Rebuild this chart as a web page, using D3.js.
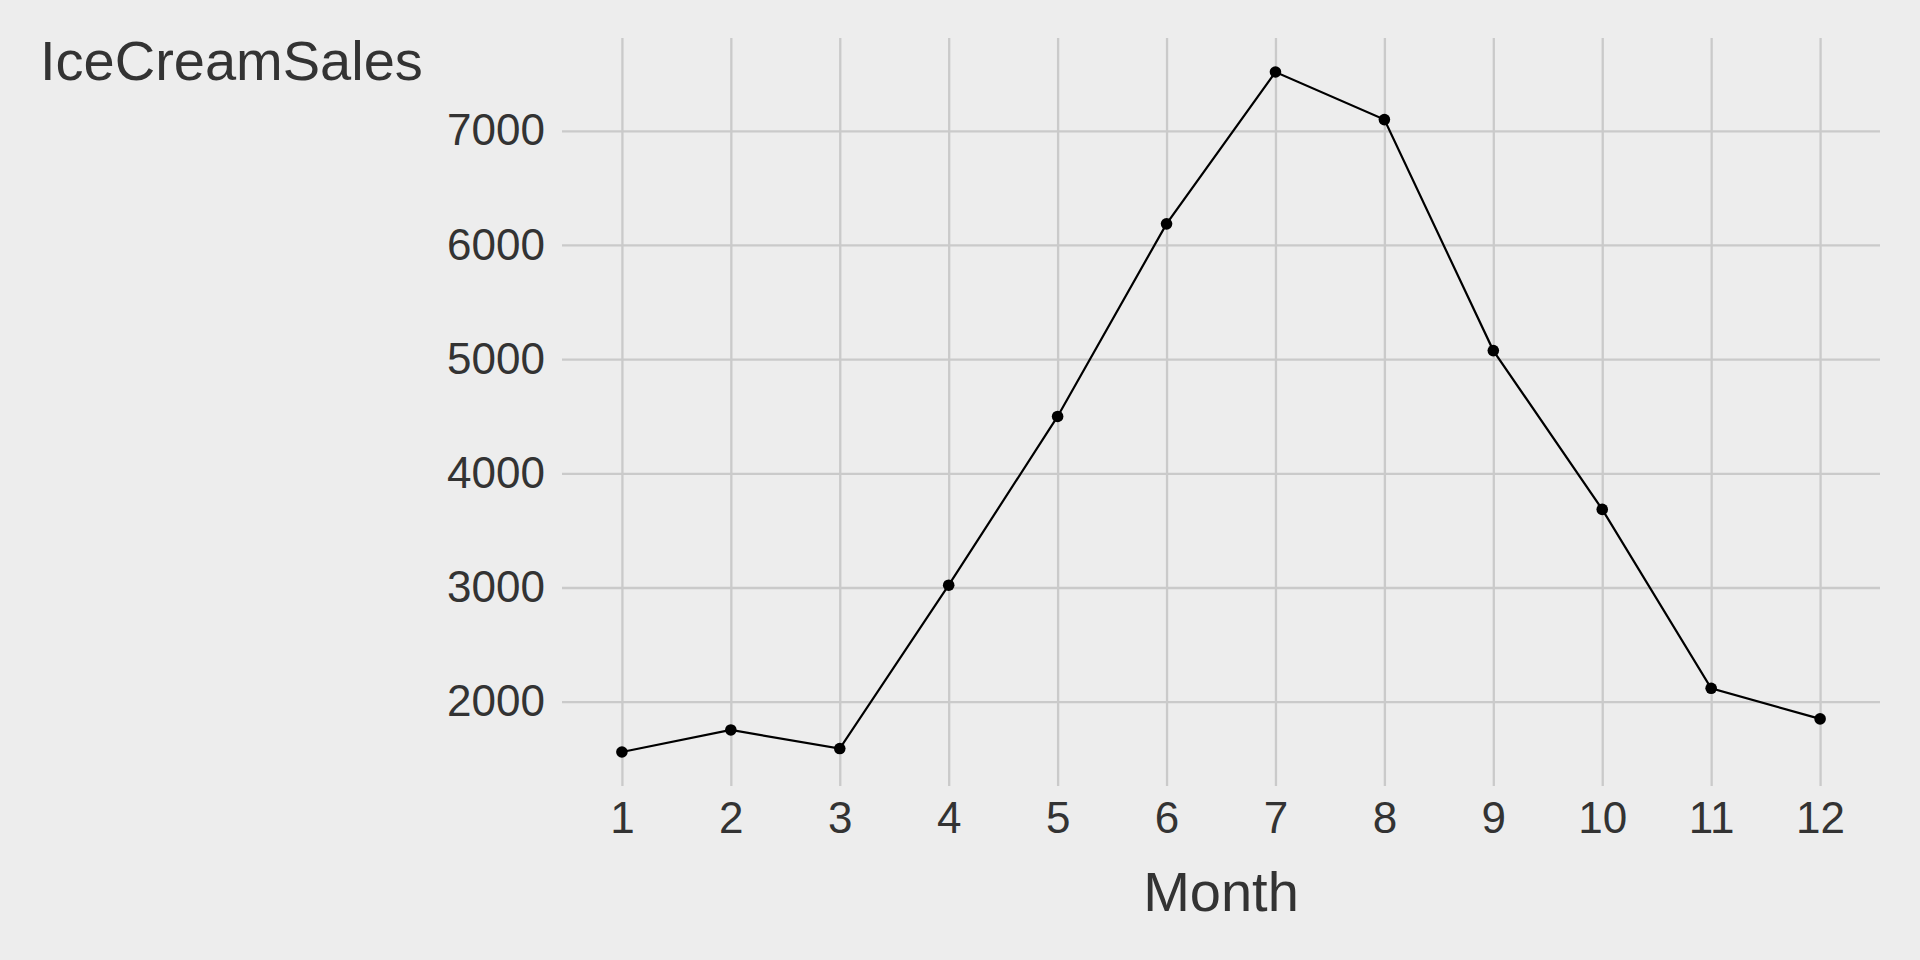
<!DOCTYPE html>
<html>
<head>
<meta charset="utf-8">
<script src="https://cdn.jsdelivr.net/npm/d3@7"></script>
<style>
  html, body { margin: 0; padding: 0; background: #EDEDED; }
  svg { display: block; }
  text { font-family: "Liberation Sans", Arial, Helvetica, sans-serif; fill: #333333; }
</style>
</head>
<body>
<script>
const months = [1, 2, 3, 4, 5, 6, 7, 8, 9, 10, 11, 12];
const sales = [1559, 1752, 1589, 3020, 4498, 6185, 7515, 7098, 5075, 3684, 2117, 1849];
const yTicks = [2000, 3000, 4000, 5000, 6000, 7000];
const xTicks = [1, 2, 3, 4, 5, 6, 7, 8, 9, 10, 11, 12];
const yTitle = "IceCreamSales";
const xTitle = "Month";

const W = 1920, H = 960;
const panel = { left: 562, right: 1880, top: 38, bottom: 786 };

const svg = d3.select("body").append("svg").attr("width", W).attr("height", H);
svg.append("rect").attr("width", W).attr("height", H).attr("fill", "#EDEDED");

const xExt = d3.extent(months), xPad = (xExt[1] - xExt[0]) * 0.05;
const yExt = d3.extent(sales), yPad = (yExt[1] - yExt[0]) * 0.05;

const x = d3.scaleLinear().domain([xExt[0] - xPad, xExt[1] + xPad]).range([panel.left, panel.right]);
const y = d3.scaleLinear().domain([yExt[0] - yPad, yExt[1] + yPad]).range([panel.bottom, panel.top]);

const gridColor = "#CACACA";

// Y axis + horizontal gridlines
const gy = svg.append("g").attr("transform", `translate(${panel.left},0)`)
  .call(d3.axisLeft(y).tickValues(yTicks).tickFormat(d3.format("d"))
    .tickSize(-(panel.right - panel.left)).tickPadding(17));
gy.select(".domain").remove();
gy.selectAll(".tick line").attr("stroke", gridColor).attr("stroke-width", 2.3);
gy.selectAll(".tick text").attr("font-size", 44).attr("fill", "#333333")
  .attr("font-family", "'Liberation Sans', Arial, sans-serif");

// X axis + vertical gridlines
const gx = svg.append("g").attr("transform", `translate(0,${panel.bottom})`)
  .call(d3.axisBottom(x).tickValues(xTicks).tickFormat(d3.format("d"))
    .tickSize(-(panel.bottom - panel.top)).tickPadding(16));
gx.select(".domain").remove();
gx.selectAll(".tick line").attr("stroke", gridColor).attr("stroke-width", 2.3);
gx.selectAll(".tick text").attr("font-size", 44).attr("fill", "#333333")
  .attr("font-family", "'Liberation Sans', Arial, sans-serif");

// Line
const data = months.map((m, i) => ({ m, v: sales[i] }));
svg.append("path").datum(data)
  .attr("fill", "none").attr("stroke", "#000").attr("stroke-width", 2.2)
  .attr("d", d3.line().x(d => x(d.m)).y(d => y(d.v)));

svg.selectAll("circle.pt").data(data).join("circle")
  .attr("class", "pt")
  .attr("cx", d => x(d.m)).attr("cy", d => y(d.v)).attr("r", 5.8).attr("fill", "#000");

// Titles
svg.append("text").attr("x", 40).attr("y", 80).attr("font-size", 56).text(yTitle);
svg.append("text").attr("x", (panel.left + panel.right) / 2).attr("y", 911)
  .attr("text-anchor", "middle").attr("font-size", 56).text(xTitle);
</script>
</body>
</html>
